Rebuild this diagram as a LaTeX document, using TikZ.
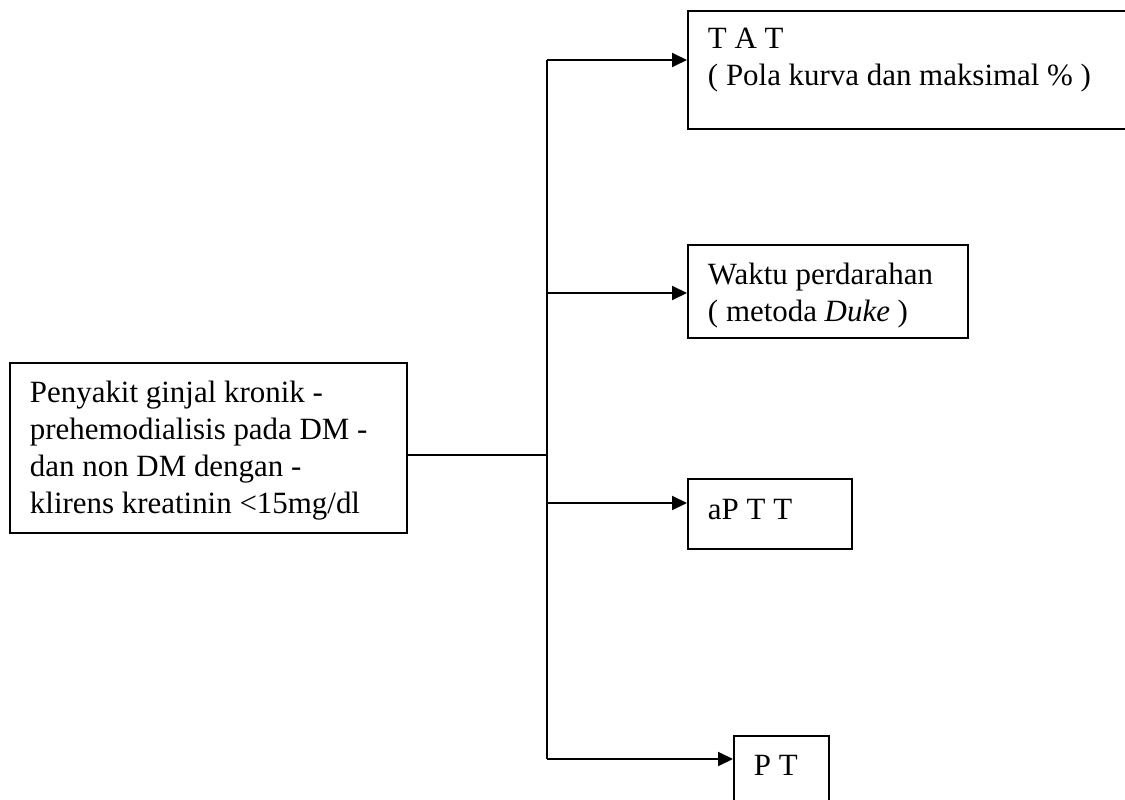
\documentclass[tikz,border=0pt]{standalone}
\usepackage{fontspec}
\setmainfont{Liberation Serif}
\usetikzlibrary{arrows.meta,positioning,calc}

\tikzset{
  box/.style={draw, line width=1.1pt, anchor=north west, align=flush left,
    inner xsep=0.4cm, inner ysep=0pt, text height=0.8cm,
    font=\fontsize{17.6pt}{21pt}\selectfont},
  link/.style={line width=1.1pt},
  arr/.style={line width=1.1pt, -{Triangle[length=0.3cm,width=0.28cm]}},
}

\begin{document}
\begin{tikzpicture}[x=0.02cm,y=-0.02cm]
  \useasboundingbox (0,0) rectangle (1125,800);

  % left box
  \node[box, text width=7.14cm, text depth=2.6cm] (main) at (9,362)
    {Penyakit ginjal kronik -\\prehemodialisis pada DM -\\dan non DM dengan -\\klirens kreatinin <15mg/dl};

  % right boxes
  \node[box, text width=8.26cm, text height=0.76cm, text depth=1.6cm] (tat) at (687,10)
    {T A T\\( Pola kurva dan maksimal \% )};
  \node[box, text width=4.8cm, text depth=1.06cm] (waktu) at (687,244)
    {Waktu perdarahan\\( metoda \textit{Duke} )};
  \node[box, text width=2.48cm, text height=0.82cm, text depth=0.58cm] (aptt) at (687,478)
    {aP T T};
  \node[box, text width=1.1cm, text depth=1.2cm] (pt) at (733,735)
    {P T};

  % spine
  \coordinate (top) at (547,60);
  \coordinate (mid) at (547,455);
  \coordinate (bot) at (547,759);
  \coordinate (jw) at (547,293);
  \coordinate (ja) at (547,503);

  \draw[link] (main.east |- mid) -- (mid);
  \draw[link] (top) -- (bot);
  \draw[arr] (top) -- (tat.west |- top);
  \draw[arr] (jw) -- (waktu.west |- jw);
  \draw[arr] (ja) -- (aptt.west |- ja);
  \draw[arr] (bot) -- (pt.west |- bot);
\end{tikzpicture}
\end{document}
